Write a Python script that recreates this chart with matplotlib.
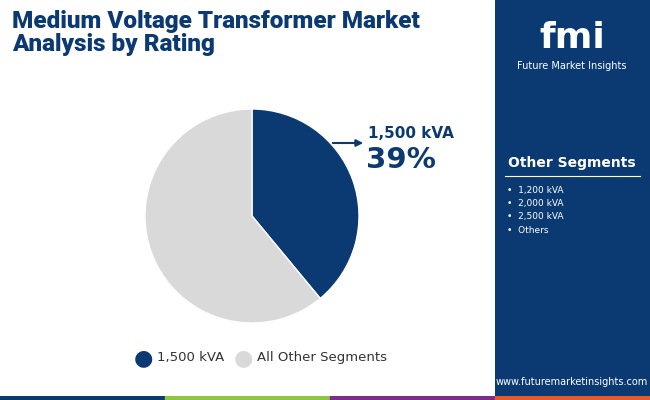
import matplotlib
matplotlib.use("Agg")
import matplotlib.pyplot as plt
import matplotlib.patches as patches

labels = ["1,500 kVA", "All Other Segments"]
shares = [39, 61]
colors = ["#0b3a73", "#d9d9d9"]
other_segments = ["1,200 kVA", "2,000 kVA", "2,500 kVA", "Others"]

W, H = 650, 400
fig = plt.figure(figsize=(6.5, 4), dpi=100)
fig.patch.set_facecolor("white")

# right panel
panel = fig.add_axes([495 / W, 0, 155 / W, 1])
panel.set_xlim(0, 155)
panel.set_ylim(0, 400)
panel.axis("off")
panel.add_patch(patches.Rectangle((0, 0), 155, 400, color="#0b3a73"))

# bottom colour strip
strip = fig.add_axes([0, 0, 1, 4 / H])
strip.axis("off")
strip.set_xlim(0, W)
for x0, x1, c in [(0, 165, "#0b3a73"), (165, 330, "#8dc63f"), (330, 495, "#7b2d8e"), (495, 650, "#e65a2a")]:
    strip.add_patch(patches.Rectangle((x0, 0), x1 - x0, 1, color=c))

fig.text(12 / W, 1 - 33 / H, "Medium Voltage Transformer Market\nAnalysis by Rating",
         fontsize=17.5, fontweight="black", color="#0b3a73", va="center",
         linespacing=1.05, family="Roboto")

# pie
ax = fig.add_axes([145 / W, 109 / H - 32 / H, 214 / W, 214 / H])
ax.pie(shares, colors=colors, startangle=90, counterclock=False, radius=1.0,
       wedgeprops=dict(linewidth=1, edgecolor="white"))
ax.set_xlim(-1, 1)
ax.set_ylim(-1, 1)
ax.set_aspect("equal")

fig.text(368 / W, 1 - 133 / H, labels[0], fontsize=11, fontweight="bold", color="#0b3a73", va="center")
fig.text(366 / W, 1 - 160 / H, f"{shares[0]}%", fontsize=21, fontweight="bold", color="#0b3a73", va="center")
fig.add_artist(patches.FancyArrowPatch((330 / W, 1 - 143 / H), (366 / W, 1 - 143 / H),
                                       transform=fig.transFigure, arrowstyle="-|>",
                                       mutation_scale=10, color="#0b3a73", lw=1.5))

# legend
leg_x = [143, 243]
for x, lab, c in zip(leg_x, labels, colors):
    fig.text(x / W, 1 - 358 / H, "\u25cf", fontsize=16, color=c, ha="center", va="center")
    fig.text((x + 14) / W, 1 - 358 / H, lab, fontsize=9.5, color="#333333", va="center")

# logo and segments on panel
panel.text(77, 362, "fmi", fontsize=26, fontweight="bold", color="white", ha="center", va="center")
panel.text(77, 334, "Future Market Insights", fontsize=7, color="white", ha="center", va="center")
panel.text(77, 237, "Other Segments", fontsize=10, fontweight="bold", color="white", ha="center", va="center")
panel.plot([10, 145], [224, 224], color="white", lw=0.8)
for i, s in enumerate(other_segments):
    panel.text(12, 210 - i * 13.5, "\u2022  " + s, fontsize=6.5, color="white", va="center")
panel.text(77, 18, "www.futuremarketinsights.com", fontsize=7, color="white", ha="center", va="center")

fig.savefig("out.png", dpi=100)
